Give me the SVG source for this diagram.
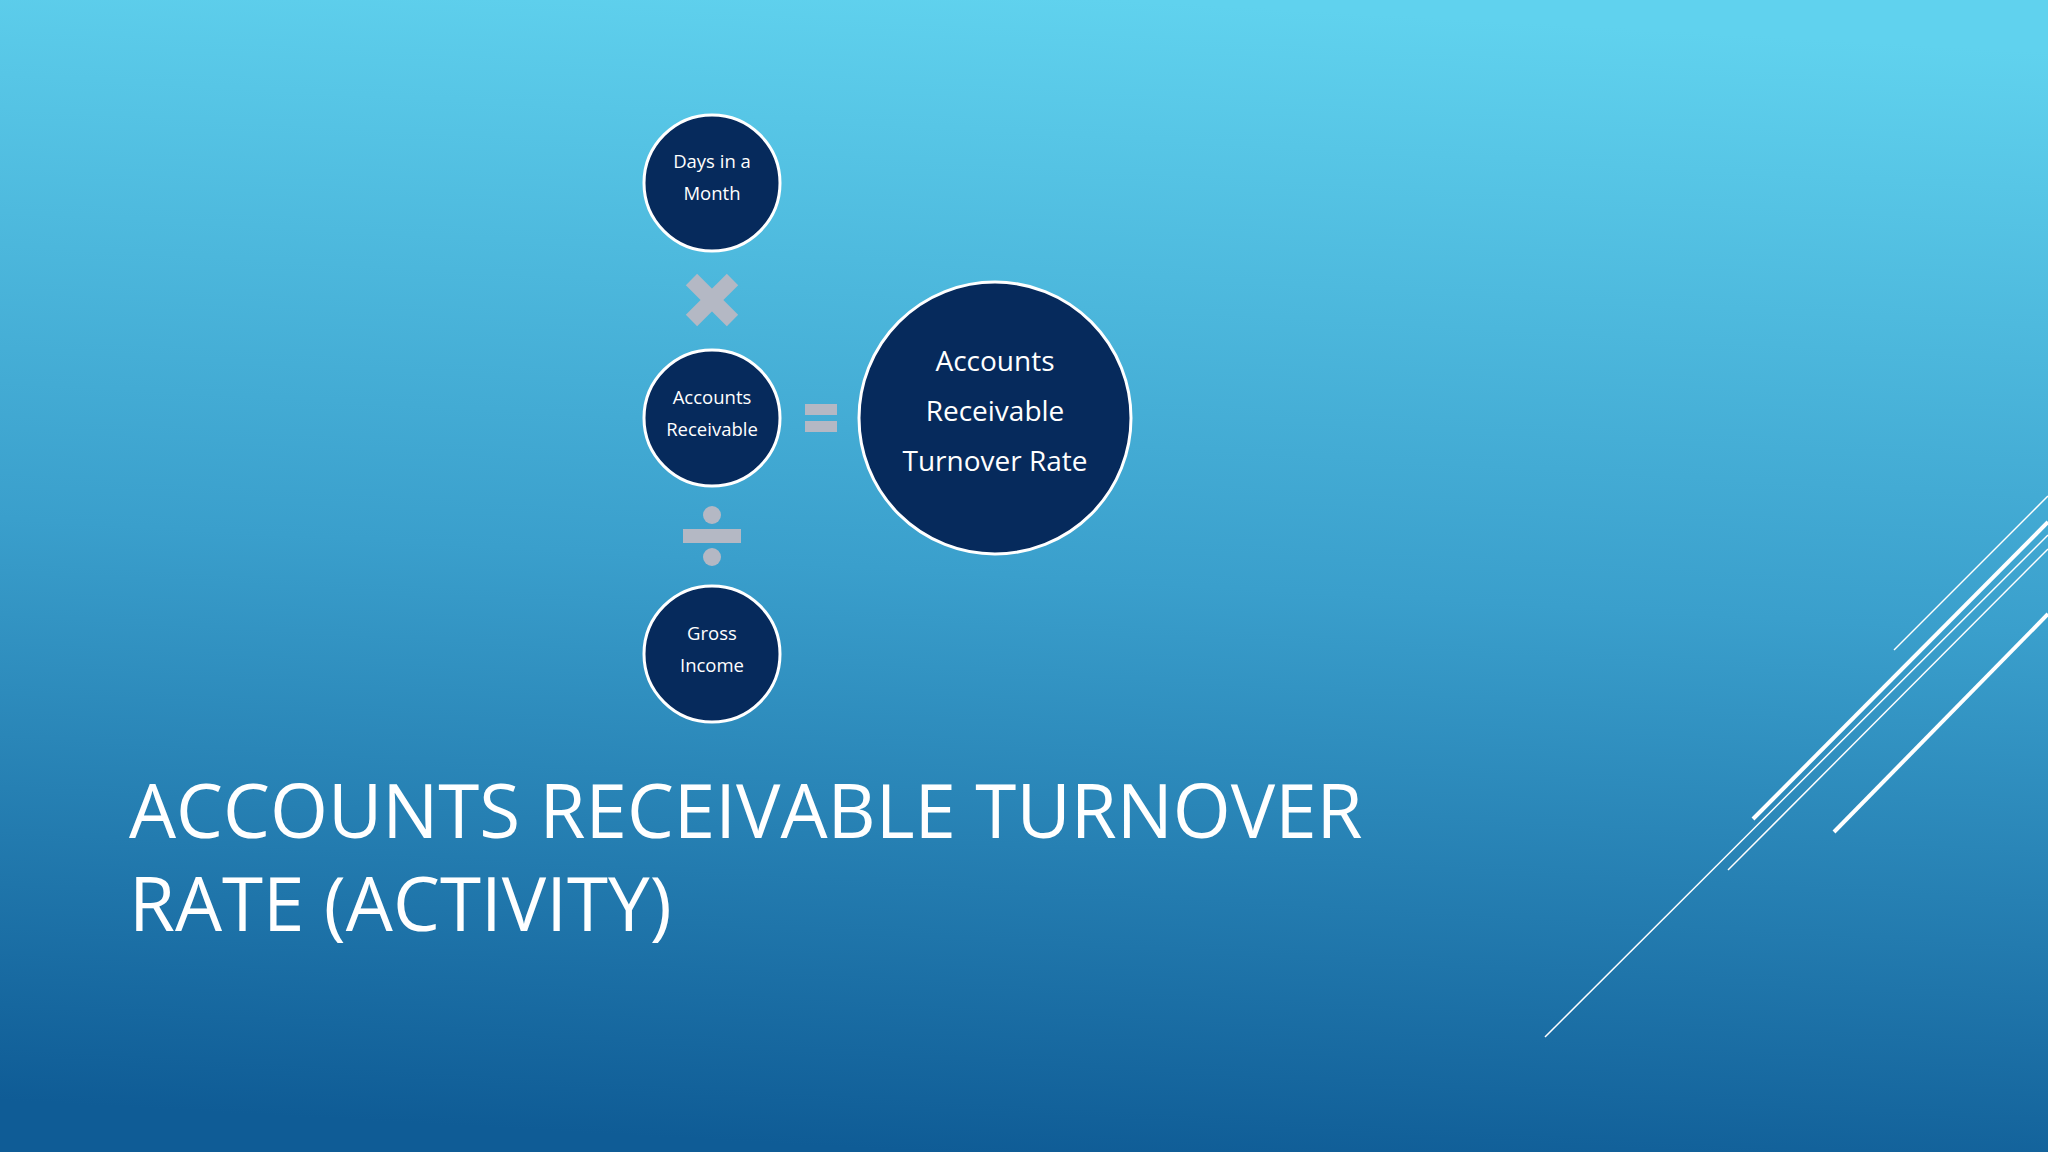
<svg xmlns="http://www.w3.org/2000/svg" width="2048" height="1152" viewBox="0 0 2048 1152">
<defs>
<linearGradient id="bg" x1="0.55" y1="0" x2="0.45" y2="1">
<stop offset="0" stop-color="#60d2ee"/>
<stop offset="0.5" stop-color="#3a9fcc"/>
<stop offset="1" stop-color="#0f5c96"/>
</linearGradient>
<style>
.n{fill:#062a5c;stroke:#fff;stroke-width:3}
.t{fill:#fff;font-family:"Open Sans","Noto Sans",sans-serif;text-anchor:middle}
.op{fill:#b4b8c4}
.ln{stroke:#fff;fill:none}
</style>
</defs>
<rect width="2048" height="1152" fill="url(#bg)"/>
<g id="deco">
<line class="ln" x1="2048" y1="496" x2="1894" y2="650" stroke-width="1.5"/>
<line class="ln" x1="2048" y1="522" x2="1753" y2="819" stroke-width="4"/>
<line class="ln" x1="2048" y1="549" x2="1728" y2="870" stroke-width="1.5"/>
<line class="ln" x1="2048" y1="614" x2="1834" y2="832" stroke-width="4"/>
<line class="ln" x1="2048" y1="535" x2="1545" y2="1037" stroke-width="1.5"/>
</g>
<g id="n1"><circle class="n" cx="712" cy="183" r="68"/><text class="t" x="712" y="168" font-size="18.5">Days in a</text><text class="t" x="712" y="200" font-size="18.5">Month</text></g>
<g id="n2"><circle class="n" cx="712" cy="418" r="68"/><text class="t" x="712" y="404" font-size="18.5">Accounts</text><text class="t" x="712" y="436" font-size="18.5">Receivable</text></g>
<g id="n3"><circle class="n" cx="712" cy="654" r="68"/><text class="t" x="712" y="640" font-size="18.5">Gross</text><text class="t" x="712" y="672" font-size="18.5">Income</text></g>
<g id="n4"><circle class="n" cx="995" cy="418" r="136"/><text class="t" x="995" y="371" font-size="28">Accounts</text><text class="t" x="995" y="421" font-size="28">Receivable</text><text class="t" x="995" y="471" font-size="28">Turnover Rate</text></g>
<g id="connectors">
<g transform="translate(712,300) rotate(45)"><rect class="op" x="-29" y="-8" width="58" height="16"/><rect class="op" x="-8" y="-29" width="16" height="58"/></g>
<rect class="op" x="805" y="404" width="32" height="11"/><rect class="op" x="805" y="421" width="32" height="11"/>
<rect class="op" x="683" y="529" width="58" height="14"/><circle class="op" cx="712" cy="515" r="9"/><circle class="op" cx="712" cy="557" r="9"/>
</g>
<g id="title" fill="#fff" font-family="'Open Sans','Noto Sans',sans-serif" font-size="74.5">
<text x="129" y="838">ACCOUNTS RECEIVABLE TURNOVER</text>
<text x="129" y="931">RATE (ACTIVITY)</text>
</g>
</svg>
